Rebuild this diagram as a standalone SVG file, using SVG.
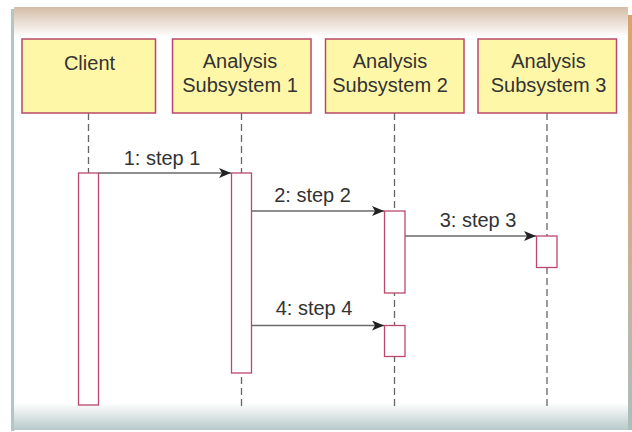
<svg xmlns="http://www.w3.org/2000/svg" width="632" height="432" viewBox="0 0 632 432">
<defs>
<linearGradient id="gTop" x1="0" y1="0" x2="0" y2="1">
<stop offset="0" stop-color="#d4bca6"/>
<stop offset="1" stop-color="#ffffff"/>
</linearGradient>
<linearGradient id="gBot" x1="0" y1="0" x2="0" y2="1">
<stop offset="0" stop-color="#ffffff"/>
<stop offset="1" stop-color="#b8c9c9"/>
</linearGradient>
<linearGradient id="gRight" x1="0" y1="0" x2="0" y2="1">
<stop offset="0" stop-color="#d9a46a"/>
<stop offset="0.45" stop-color="#d3ae88"/>
<stop offset="1" stop-color="#a8bfc1"/>
</linearGradient>
<marker id="arr" viewBox="0 0 12 10" refX="12" refY="5" markerWidth="12" markerHeight="10" markerUnits="userSpaceOnUse" orient="auto">
<path d="M0,0 L12,5 L0,10 L3,5 Z" fill="#222"/>
</marker>
<style>
.box{fill:#fff7a8;stroke:#b9486a;stroke-width:1.5}
.act{fill:#ffffff;stroke:#b9486a;stroke-width:1.3}
.life{stroke:#666;stroke-width:1.3;stroke-dasharray:7 4;fill:none}
.msg{stroke:#6a6a6a;stroke-width:1.4;fill:none;marker-end:url(#arr)}
text{font-family:"Liberation Sans",Arial,sans-serif;font-size:20px;fill:#333;text-anchor:middle}
</style>
</defs>
<rect x="0" y="0" width="632" height="432" fill="#ffffff"/>
<rect x="14" y="7" width="614" height="30" fill="url(#gTop)"/>
<rect x="11" y="9" width="3" height="422" fill="#b4c5c5"/>
<rect x="628" y="15" width="4" height="415" fill="url(#gRight)"/>
<rect x="14" y="403" width="614" height="27" fill="url(#gBot)"/>

<g id="lifelines">
<line class="life" x1="88.5" y1="113" x2="88.5" y2="173"/>
<line class="life" x1="241.5" y1="113" x2="241.5" y2="407"/>
<line class="life" x1="394.5" y1="113" x2="394.5" y2="407"/>
<line class="life" x1="547" y1="113" x2="547" y2="407"/>
</g>

<g id="client">
<rect class="box" x="22" y="39" width="133.5" height="74"/>
<text x="89.5" y="70">Client</text>
<rect class="act" x="78.5" y="173" width="20" height="232"/>
</g>
<g id="sub1">
<rect class="box" x="172.5" y="39" width="138.5" height="74"/>
<text x="240" y="68">Analysis</text>
<text x="240" y="92">Subsystem 1</text>
<rect class="act" x="231.5" y="173" width="20" height="200"/>
</g>
<g id="sub2">
<rect class="box" x="325.5" y="39" width="138.5" height="74"/>
<text x="390" y="68">Analysis</text>
<text x="390" y="92">Subsystem 2</text>
<rect class="act" x="384.5" y="211" width="20.5" height="82"/>
<rect class="act" x="384.5" y="325.5" width="20.5" height="31"/>
</g>
<g id="sub3">
<rect class="box" x="478" y="39" width="138.5" height="74"/>
<text x="548.5" y="68">Analysis</text>
<text x="548.5" y="92">Subsystem 3</text>
<rect class="act" x="536.5" y="236" width="20.5" height="31.5"/>
</g>

<g id="connectors">
<line class="msg" x1="98.5" y1="173" x2="231" y2="173"/>
<text x="162" y="165">1: step 1</text>
<line class="msg" x1="251.5" y1="211" x2="384" y2="211"/>
<text x="312.5" y="201.5">2: step 2</text>
<line class="msg" x1="405" y1="236" x2="536" y2="236"/>
<text x="478" y="226.5">3: step 3</text>
<line class="msg" x1="251.5" y1="325.5" x2="384" y2="325.5"/>
<text x="314" y="315">4: step 4</text>
</g>
</svg>
